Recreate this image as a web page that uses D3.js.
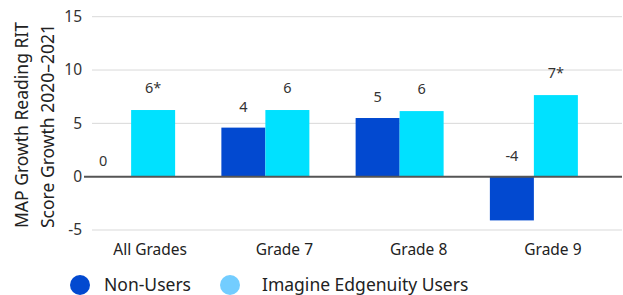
<!DOCTYPE html>
<html>
<head>
<meta charset="utf-8">
<script src="https://cdn.jsdelivr.net/npm/d3@7"></script>
<style>
  body { margin: 0; background: #fff; }
  svg { display: block; font-family: "Noto Sans", Lato, sans-serif; }
</style>
</head>
<body>
<div id="chart"></div>
<script>
// données
const categories = ["All Grades", "Grade 7", "Grade 8", "Grade 9"];
const nonUsers = [0, 4.6, 5.5, -4.1];
const edgenuityUsers = [6.25, 6.25, 6.15, 7.65];
const nonUsersLabels = ["0", "4", "5", "-4"];
const usersLabels = ["6*", "6", "6", "7*"];
const yTicks = [-5, 0, 5, 10, 15];

const width = 623;
const height = 295;
const margin = { top: 17, right: 1, bottom: 65, left: 92 };

const colNon = "#0249d0";
const colUsers = "#00e1ff";

const svg = d3.select("#chart")
  .append("svg")
  .attr("width", width)
  .attr("height", height);

// échelles
const y = d3.scaleLinear()
  .domain([-5, 15])
  .range([230, 16.7]);

const x0 = d3.scaleBand()
  .domain(categories)
  .range([64, 601]);

const x1 = d3.scaleBand()
  .domain(["non", "users"])
  .range([-44, 44]);

// grille
svg.append("g")
  .selectAll("line")
  .data(yTicks.filter(d => d !== 0))
  .join("line")
  .attr("x1", margin.left)
  .attr("x2", width - margin.right)
  .attr("y1", d => y(d))
  .attr("y2", d => y(d))
  .attr("stroke", "#d9d9d9")
  .attr("stroke-width", 1);

// étiquettes axe Y
svg.append("g")
  .selectAll("text")
  .data(yTicks)
  .join("text")
  .attr("x", 82)
  .attr("y", d => y(d))
  .attr("dy", "0.35em")
  .attr("text-anchor", "end")
  .attr("font-size", "15.5px")
  .attr("fill", "#333")
  .text(d => d);

// barres
const groups = svg.append("g")
  .selectAll("g")
  .data(categories)
  .join("g")
  .attr("transform", d => `translate(${x0(d) + x0.bandwidth() / 2},0)`);

groups.append("rect")
  .attr("x", x1("non"))
  .attr("width", x1.bandwidth())
  .attr("y", (d, i) => y(Math.max(0, nonUsers[i])))
  .attr("height", (d, i) => Math.abs(y(nonUsers[i]) - y(0)))
  .attr("fill", colNon);

groups.append("rect")
  .attr("x", x1("users"))
  .attr("width", x1.bandwidth())
  .attr("y", (d, i) => y(Math.max(0, edgenuityUsers[i])))
  .attr("height", (d, i) => Math.abs(y(edgenuityUsers[i]) - y(0)))
  .attr("fill", colUsers);

// valeurs
groups.append("text")
  .attr("x", (d, i) => x1("non") + x1.bandwidth() / 2 - (nonUsers[i] === 0 ? 6 : 0))
  .attr("y", (d, i) => nonUsers[i] === 0 ? y(0) - 11 : y(Math.max(0, nonUsers[i])) - 16)
  .attr("text-anchor", "middle")
  .attr("font-size", "14.5px")
  .attr("fill", "#333")
  .text((d, i) => nonUsersLabels[i]);

groups.append("text")
  .attr("x", x1("users") + x1.bandwidth() / 2)
  .attr("y", (d, i) => y(edgenuityUsers[i]) - 17)
  .attr("text-anchor", "middle")
  .attr("font-size", "14.5px")
  .attr("fill", "#333")
  .text((d, i) => usersLabels[i]);

// ligne zéro
svg.append("line")
  .attr("x1", 84)
  .attr("x2", width - margin.right)
  .attr("y1", y(0))
  .attr("y2", y(0))
  .attr("stroke", "#555")
  .attr("stroke-width", 2);

// étiquettes axe X
svg.append("g")
  .selectAll("text")
  .data(categories)
  .join("text")
  .attr("x", d => x0(d) + x0.bandwidth() / 2 + 19)
  .attr("y", 255)
  .attr("text-anchor", "middle")
  .attr("font-size", "15.5px")
  .attr("fill", "#222")
  .text(d => d);

// titre axe Y
const yTitle = svg.append("text")
  .attr("transform", "translate(0,228) rotate(-90)")
  .attr("font-size", "17.5px")
  .attr("fill", "#222");
yTitle.append("tspan").attr("x", 0).attr("y", 28).text("MAP Growth Reading RIT");
yTitle.append("tspan").attr("x", 0).attr("y", 54).text("Score Growth 2020\u20132021");

// légende
const legend = [
  { label: "Non-Users", color: colNon, cx: 80, tx: 104 },
  { label: "Imagine Edgenuity Users", color: "#73cdff", cx: 230, tx: 262 }
];
const lg = svg.append("g")
  .selectAll("g")
  .data(legend)
  .join("g");
lg.append("circle")
  .attr("cx", d => d.cx)
  .attr("cy", 285)
  .attr("r", 10)
  .attr("fill", d => d.color);
lg.append("text")
  .attr("x", d => d.tx)
  .attr("y", 291)
  .attr("font-size", "17.5px")
  .attr("fill", "#222")
  .text(d => d.label);
</script>
</body>
</html>
